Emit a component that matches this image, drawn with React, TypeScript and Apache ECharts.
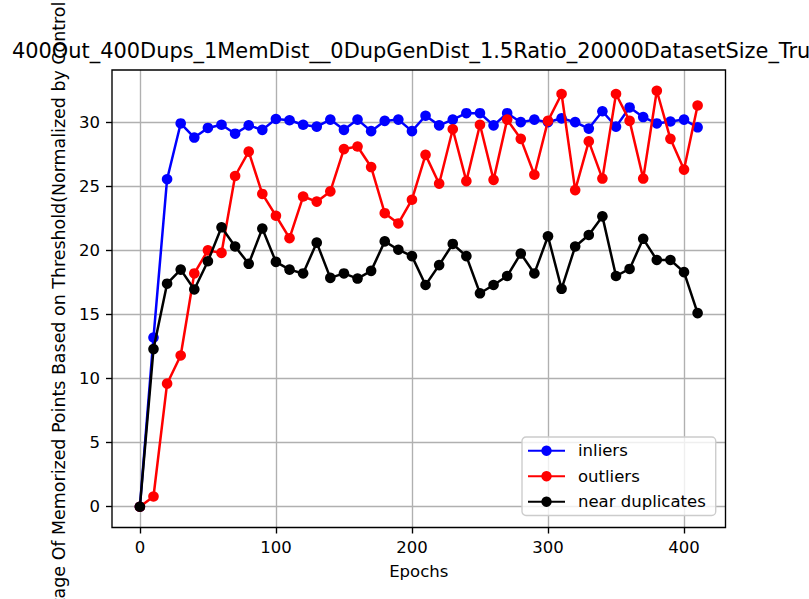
import React, { useEffect, useRef } from "react";
import * as echarts from "echarts";

const epochs = [0, 10, 20, 30, 40, 50, 60, 70, 80, 90, 100, 110, 120, 130, 140, 150, 160, 170, 180, 190, 200, 210, 220, 230, 240, 250, 260, 270, 280, 290, 300, 310, 320, 330, 340, 350, 360, 370, 380, 390, 400, 410];

const inliers = [0, 13.2, 25.55, 29.9, 28.8, 29.55, 29.8, 29.1, 29.75, 29.4, 30.25, 30.15, 29.8, 29.65, 30.2, 29.4, 30.2, 29.3, 30.1, 30.2, 29.3, 30.5, 29.75, 30.2, 30.7, 30.7, 29.75, 30.7, 30.0, 30.2, 30.0, 30.3, 30.0, 29.5, 30.85, 29.65, 31.15, 30.4, 29.9, 30.05, 30.2, 29.6];

const outliers = [0, 0.8, 9.6, 11.8, 18.2, 20.0, 19.8, 25.8, 27.7, 24.4, 22.7, 20.95, 24.2, 23.8, 24.6, 27.9, 28.1, 26.5, 22.9, 22.1, 23.95, 27.45, 25.2, 29.45, 25.4, 29.8, 25.5, 30.2, 28.7, 25.9, 30.1, 32.2, 24.7, 28.5, 25.6, 32.2, 30.1, 25.6, 32.45, 28.7, 26.3, 31.3];

const nearDuplicates = [0, 12.3, 17.4, 18.5, 16.95, 19.15, 21.8, 20.3, 18.95, 21.7, 19.1, 18.5, 18.2, 20.6, 17.85, 18.2, 17.8, 18.4, 20.7, 20.05, 19.55, 17.3, 18.85, 20.5, 19.55, 16.65, 17.3, 18.0, 19.75, 18.2, 21.1, 17.0, 20.3, 21.2, 22.65, 18.0, 18.55, 20.9, 19.25, 19.25, 18.3, 15.1];

const xTicks = [0, 100, 200, 300, 400];
const yTicks = [0, 5, 10, 15, 20, 25, 30];

const seriesNames = ["inliers", "outliers", "near duplicates"];
const seriesColors = ["#0000ff", "#ff0000", "#000000"];

const titleText = "400Out_400Dups_1MemDist__0DupGenDist_1.5Ratio_20000DatasetSize_True";
const yLabelText = "Percentage Of Memorized Points Based on Threshold(Normalized by Control)";
const xLabelText = "Epochs";

const FONT = "'DejaVu Sans', sans-serif";

export default function App() {
  const ref = useRef<HTMLDivElement>(null);

  useEffect(() => {
    if (!ref.current) return;
    const chart = echarts.init(ref.current, null, { renderer: "svg" });
    const grid = { left: 112, top: 70, width: 613.5, height: 457.5 };
    const values = [inliers, outliers, nearDuplicates];

    const series = values.map((vals, i) => ({
      name: seriesNames[i],
      type: "line",
      data: epochs.map((e, j) => [e, vals[j]]),
      symbol: "circle",
      symbolSize: 10.6,
      showSymbol: true,
      lineStyle: { color: seriesColors[i], width: 2.5 },
      itemStyle: { color: seriesColors[i] },
      emphasis: { disabled: true },
      z: 3 + i,
    }));

    chart.setOption({
      animation: false,
      backgroundColor: "#ffffff",
      textStyle: { fontFamily: FONT },
      grid: { ...grid, containLabel: false },
      xAxis: {
        type: "value",
        min: -20.5,
        max: 430.5,
        splitNumber: 5,
        axisLine: { show: false, onZero: false },
        axisTick: { show: true, inside: false, length: 6, lineStyle: { color: "#000", width: 1.37 }, customValues: xTicks },
        axisLabel: { inside: false, color: "#000", fontSize: 16.5, fontFamily: FONT, margin: 11, customValues: xTicks },
        splitLine: { show: true, lineStyle: { color: "#b0b0b0", width: 1.37 } },
      },
      yAxis: {
        type: "value",
        min: -1.62,
        max: 34.07,
        splitNumber: 7,
        axisLine: { show: false, onZero: false },
        axisTick: { show: true, inside: false, length: 6, lineStyle: { color: "#000", width: 1.37 }, customValues: yTicks },
        axisLabel: { inside: false, color: "#000", fontSize: 16.5, fontFamily: FONT, margin: 12, customValues: yTicks },
        splitLine: { show: true, lineStyle: { color: "#b0b0b0", width: 1.37 } },
      },
      legend: {
        show: true,
        orient: "vertical",
        left: 522,
        top: 437,
        data: seriesNames,
        padding: [5, 10, 5, 5],
        itemWidth: 37,
        itemHeight: 13,
        itemGap: 8,
        backgroundColor: "rgba(255,255,255,0.8)",
        borderColor: "#cccccc",
        borderWidth: 1.37,
        borderRadius: 4,
        textStyle: { color: "#000", fontSize: 16.5, fontFamily: FONT, lineHeight: 17.5, padding: [0, 0, 0, 8] },
        selectedMode: false,
      },
      graphic: [
        {
          type: "rect",
          z: 100,
          silent: true,
          shape: { x: grid.left, y: grid.top, width: grid.width, height: grid.height },
          style: { fill: "none", stroke: "#000", lineWidth: 1.37 },
        },
        {
          type: "text",
          x: 12,
          y: 50.5,
          style: { text: titleText, fontSize: 20.9, fontFamily: FONT, fill: "#000", textAlign: "left", textVerticalAlign: "middle" },
        },
        {
          type: "text",
          x: 59,
          y: 664,
          rotation: Math.PI / 2,
          style: { text: yLabelText, fontSize: 17.45, fontFamily: FONT, fill: "#000", textAlign: "left", textVerticalAlign: "middle" },
        },
        {
          type: "text",
          x: 418.75,
          y: 571,
          style: { text: xLabelText, fontSize: 16.5, fontFamily: FONT, fill: "#000", textAlign: "center", textVerticalAlign: "middle" },
        },
      ],
      series,
    });

    return () => chart.dispose();
  }, []);

  return (
    <div
      ref={ref}
      style={{ position: "fixed", left: 0, top: 0, width: 809, height: 599, background: "#fff" }}
    />
  );
}
